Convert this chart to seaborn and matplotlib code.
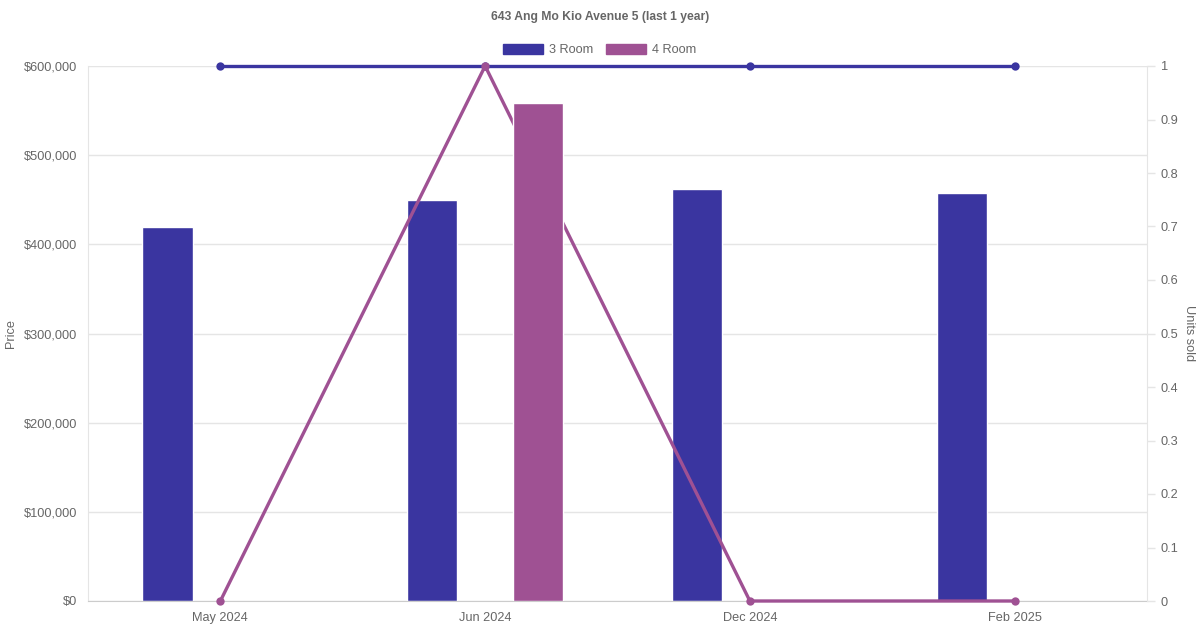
import matplotlib
matplotlib.use('Agg')
import matplotlib.pyplot as plt
import seaborn as sns
import pandas as pd
import numpy as np

# duomenys nuskaityti nuo paveikslo
menesiai = ['May 2024', 'Jun 2024', 'Dec 2024', 'Feb 2025']
kaina_3room = [420000, 450000, 462000, 458000]
kaina_4room = [np.nan, 558000, np.nan, np.nan]
parduota_3room = [1, 1, 1, 1]
parduota_4room = [0, 1, 0, 0]

spalva_3 = '#3a35a0'
spalva_4 = '#9f5193'
teksto_spalva = '#666666'

sns.set_style('white')
plt.rcParams['font.family'] = ['Liberation Sans', 'DejaVu Sans']

df = pd.DataFrame({
    'Menuo': menesiai * 2,
    'Kaina': kaina_3room + kaina_4room,
    'Tipas': ['3 Room'] * 4 + ['4 Room'] * 4,
})
df_vnt = pd.DataFrame({
    'x': list(range(len(menesiai))) * 2,
    'Vnt': parduota_3room + parduota_4room,
    'Tipas': ['3 Room'] * 4 + ['4 Room'] * 4,
})

fig = plt.figure(figsize=(12, 6.3), dpi=100)
ax = fig.add_axes([88 / 1200, 1 - 601 / 630, (1147 - 88) / 1200, (601 - 66) / 630])
ax2 = ax.twinx()

# tik 3 Room stulpeliai apacioje, 4 Room - virs liniju
sns.barplot(data=df[df['Tipas'] == '3 Room'], x='Menuo', y='Kaina', order=menesiai,
            color=spalva_3, width=0.19, saturation=1, ax=ax)
for p in ax.patches:
    p.set_x(p.get_x() - 0.2)

sns.lineplot(data=df_vnt, x='x', y='Vnt', hue='Tipas',
             palette={'3 Room': spalva_3, '4 Room': spalva_4},
             marker='o', markersize=6, markeredgewidth=0, linewidth=2.4,
             ax=ax2, legend=False)
for ln in ax2.lines:
    ln.set_clip_on(False)

ax.set_zorder(1)
ax.patch.set_visible(False)
ax2.set_zorder(2)
ax2.patch.set_visible(False)

ax3 = fig.add_axes(ax.get_position(), sharex=ax, sharey=ax)
ax3.set_zorder(3)
ax3.patch.set_visible(False)
x_poz = np.arange(len(menesiai))
for i, v in enumerate(kaina_4room):
    if not np.isnan(v):
        ax3.bar(x_poz[i] + 0.2, v, width=0.19, color=spalva_4)
ax3.axis('off')

ax.set_xlim(-0.5, len(menesiai) - 0.5)
ax.set_ylim(0, 600000)
ax.set_yticks(range(0, 600001, 100000))
ax.set_yticklabels([f'${v:,}' for v in range(0, 600001, 100000)])
ax.grid(axis='y', color='#e5e5e5', linewidth=1)
ax.set_axisbelow(True)
ax.set_xlabel('')
ax.set_ylabel('')
ax.tick_params(axis='both', colors=teksto_spalva, labelsize=9.2, length=0, pad=8)

ax2.set_ylim(0, 1)
ax2.set_yticks(np.arange(0, 1.01, 0.1))
ax2.set_yticklabels(['0'] + [f'{v:.1f}' for v in np.arange(0.1, 0.95, 0.1)] + ['1'])
ax2.set_ylabel('')
ax2.tick_params(axis='y', colors=teksto_spalva, labelsize=9.2, length=6, width=1, pad=4)
ax2.tick_params(axis='y', color='#e5e5e5')
ax2.set_xlabel('')

for a in (ax, ax2):
    for s in a.spines.values():
        s.set_visible(False)
ax.spines['left'].set_visible(True)
ax.spines['left'].set_color('#e5e5e5')
ax.spines['bottom'].set_visible(True)
ax.spines['bottom'].set_color('#cccccc')
ax2.spines['right'].set_visible(True)
ax2.spines['right'].set_color('#e5e5e5')

fig.text(11 / 1200, 1 - 333 / 630, 'Price', rotation=90, ha='center', va='center',
         color=teksto_spalva, fontsize=9.2)
fig.text(1189 / 1200, 1 - 333 / 630, 'Units sold', rotation=270, ha='center', va='center',
         color=teksto_spalva, fontsize=9.2)

fig.text(0.5, 1 - 17 / 630, '643 Ang Mo Kio Avenue 5 (last 1 year)', ha='center', va='center',
         color=teksto_spalva, fontsize=8.7, fontweight='bold')

rankenos = [matplotlib.patches.Patch(color=spalva_3, label='3 Room'),
            matplotlib.patches.Patch(color=spalva_4, label='4 Room')]
fig.legend(handles=rankenos, loc='center', bbox_to_anchor=(0.5, 1 - 50 / 630), ncol=2,
           frameon=False, fontsize=9.2, labelcolor=teksto_spalva, handlelength=3.1,
           handleheight=0.9, columnspacing=1.0, handletextpad=0.5)

fig.savefig('out.png', dpi=100)
